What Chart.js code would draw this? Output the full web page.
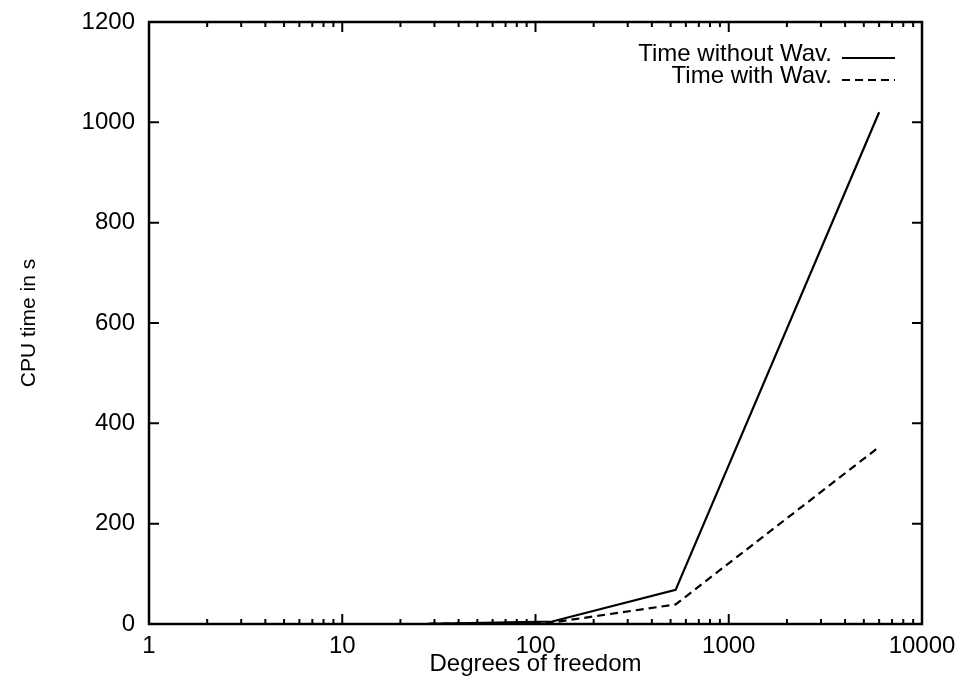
<!DOCTYPE html>
<html>
<head>
<meta charset="utf-8">
<script src="https://cdn.jsdelivr.net/npm/chart.js@4.4.1/dist/chart.umd.min.js"></script>
<style>
  html, body { margin: 0; background: #fff; }
</style>
</head>
<body>
<canvas id="chart" width="964" height="691"></canvas>
<script>
// values
const dof = [28, 122, 531, 6000]
const timeWithout = [0.5, 5, 68, 1020]
const timeWith = [0.5, 3, 39, 353]
const xTicks = [1, 10, 100, 1000, 10000]
const yTicks = [0, 200, 400, 600, 800, 1000, 1200]

const FONT = 'Liberation Sans, Arial, sans-serif'
const INK = '#000'

// gnuplot-like frame: box round the plot with inward ticks on every side
const framePlugin = {
  id: 'frame',
  afterDatasetsDraw(chart) {
    const { ctx, chartArea: a, scales } = chart
    ctx.save()
    ctx.strokeStyle = INK
    ctx.lineWidth = 2.5
    ctx.strokeRect(a.left, a.top, a.right - a.left, a.bottom - a.top)

    ctx.lineWidth = 2
    ctx.beginPath()
    xTicks.forEach((d, i) => {
      const major = scales.x.getPixelForValue(d)
      ctx.moveTo(major, a.bottom); ctx.lineTo(major, a.bottom - 10)
      ctx.moveTo(major, a.top); ctx.lineTo(major, a.top + 10)
      if (i === xTicks.length - 1) return
      for (let k = 2; k < 10; k++) {
        const px = scales.x.getPixelForValue(d * k)
        ctx.moveTo(px, a.bottom); ctx.lineTo(px, a.bottom - 5)
        ctx.moveTo(px, a.top); ctx.lineTo(px, a.top + 5)
      }
    })
    yTicks.forEach(v => {
      const py = scales.y.getPixelForValue(v)
      ctx.moveTo(a.left, py); ctx.lineTo(a.left + 10, py)
      ctx.moveTo(a.right, py); ctx.lineTo(a.right - 10, py)
    })
    ctx.stroke()

    // key in the top right corner: text then line sample
    ctx.font = '24px ' + FONT
    ctx.fillStyle = INK
    ctx.textAlign = 'right'
    ctx.textBaseline = 'alphabetic'
    chart.data.datasets.forEach((ds, i) => {
      const base = 61 + i * 22
      ctx.fillText(ds.label, 832, base)
      ctx.beginPath()
      ctx.lineWidth = ds.borderWidth
      ctx.setLineDash(ds.borderDash || [])
      ctx.moveTo(842, base - 3)
      ctx.lineTo(895, base - 3)
      ctx.stroke()
    })
    ctx.restore()
  }
}

new Chart(document.getElementById('chart'), {
  type: 'line',
  data: {
    datasets: [
      {
        label: 'Time without Wav.',
        data: dof.map((d, i) => ({ x: d, y: timeWithout[i] })),
        borderColor: INK,
        borderWidth: 2.2,
        pointRadius: 0,
        tension: 0
      },
      {
        label: 'Time with Wav.',
        data: dof.map((d, i) => ({ x: d, y: timeWith[i] })),
        borderColor: INK,
        borderWidth: 2.2,
        borderDash: [8, 5],
        pointRadius: 0,
        tension: 0
      }
    ]
  },
  options: {
    responsive: false,
    devicePixelRatio: 1,
    animation: false,
    layout: { padding: { left: 0, top: 22, right: 42, bottom: 0 } },
    plugins: {
      legend: { display: false },
      tooltip: { enabled: false }
    },
    scales: {
      x: {
        type: 'logarithmic',
        min: 1,
        max: 10000,
        grid: { display: false, drawTicks: false },
        border: { display: false },
        afterBuildTicks: s => { s.ticks = xTicks.map(v => ({ value: v })) },
        afterFit: s => { s.height = 67 },
        ticks: {
          color: INK,
          font: { family: FONT, size: 24 },
          padding: 8,
          maxRotation: 0,
          autoSkip: false,
          callback: v => String(v)
        },
        title: {
          display: true,
          text: 'Degrees of freedom',
          color: INK,
          font: { family: FONT, size: 24 },
          padding: { top: 0, bottom: 12 }
        }
      },
      y: {
        min: 0,
        max: 1200,
        grid: { display: false, drawTicks: false },
        border: { display: false },
        afterBuildTicks: s => { s.ticks = yTicks.map(v => ({ value: v })) },
        afterFit: s => { s.width = 149 },
        ticks: {
          color: INK,
          font: { family: FONT, size: 24, lineHeight: 0.6 },
          padding: 14,
          callback: v => String(v)
        },
        title: {
          display: true,
          text: 'CPU time in s',
          color: INK,
          font: { family: FONT, size: 21 },
          padding: { top: 17, bottom: 0 }
        }
      }
    }
  },
  plugins: [framePlugin]
})
</script>
</body>
</html>
